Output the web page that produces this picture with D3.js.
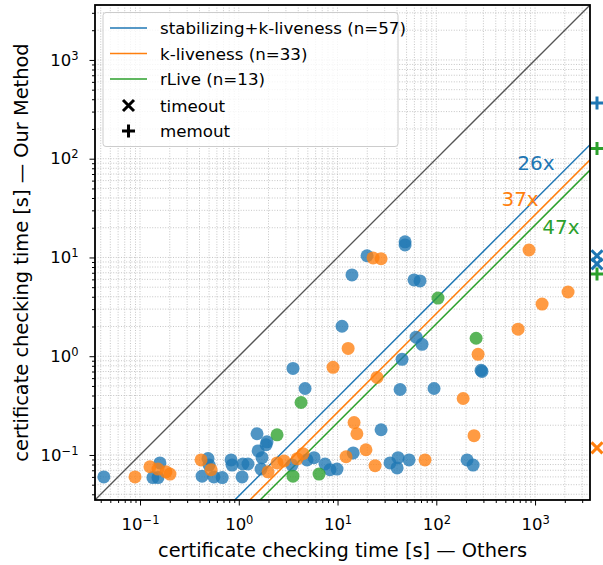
<!DOCTYPE html>
<html>
<head>
<meta charset="utf-8">
<script src="https://cdn.jsdelivr.net/npm/d3@7"></script>
<style>
body { margin: 0; background: #fff; }
text { font-family: "DejaVu Sans", sans-serif; fill: #000; }
</style>
</head>
<body>
<div id="chart"></div>
<script>
// stabilizing+k-liveness (blue)
var stabX = [0.043, 0.135, 0.152, 0.159, 0.425, 0.488, 0.50, 0.56, 0.68, 0.835, 0.855, 1.08, 1.10, 1.24,
  1.53, 1.93, 1.89, 1.57, 1.72, 1.68, 3.46, 4.91, 5.78, 7.47, 8.39, 9.88, 3.54, 4.69, 62.4, 71.7,
  45.0, 43.0, 94.9, 284, 290, 27.6, 14.4, 34.0, 41.0, 40.1, 53.0, 205, 236, 19.9, 48.3, 48.3,
  14.0, 59.5, 68.4, 11.1];
var stabY = [0.060, 0.059, 0.059, 0.083, 0.061, 0.092, 0.079, 0.060, 0.059, 0.089, 0.079, 0.060, 0.081, 0.081,
  0.164, 0.136, 0.127, 0.110, 0.094, 0.072, 0.079, 0.089, 0.094, 0.081, 0.071, 0.072, 0.753, 0.471, 1.56, 1.32,
  0.929, 0.46, 0.471, 0.719, 0.702, 0.180, 0.105, 0.083, 0.094, 0.074, 0.089, 0.089, 0.079, 10.4, 14.4, 13.4,
  6.65, 5.92, 5.78, 2.01];

// k-liveness (orange)
var klivX = [0.089, 0.126, 0.152, 0.183, 0.201, 0.415, 0.524, 1.98, 2.44, 2.87, 3.89, 4.47, 9.0, 12.8, 25.1,
  187, 14.7, 15.7, 19.4, 12.2, 241, 24.0, 76.9, 265, 22.9, 27.6, 869, 1178, 2158, 673];
var klivY = [0.060, 0.076, 0.072, 0.0675, 0.064, 0.089, 0.071, 0.0675, 0.083, 0.087, 0.0915, 0.103, 0.771, 1.20, 0.61,
  0.373, 0.213, 0.164, 0.113, 0.096, 0.157, 0.078, 0.089, 1.045, 9.9, 9.7, 11.9, 3.37, 4.47, 1.88];

// rLive (green)
var rliveX = [2.44, 3.54, 6.5, 4.27, 104, 253];
var rliveY = [0.160, 0.061, 0.064, 0.340, 3.88, 1.52];

// runs of the other tools that did not finish (y = our time)
var timeoutY = { stab: [10.4, 8.6], kliv: [0.118], rlive: [] };
var memoutY = { stab: [366], kliv: [], rlive: [127, 6.8] };

var speedups = [26, 37, 47];
var seriesNames = ["stabilizing+k-liveness (n=57)", "k-liveness (n=33)", "rLive (n=13)"];
var tickExps = [-1, 0, 1, 2, 3];
var axisLimits = [0.035, 3600];

var colors = ["#1f77b4", "#ff7f0e", "#2ca02c"];

var svgWidth = 603, svgHeight = 565;
var margin = { top: 5, right: 13, bottom: 65, left: 95 };
var width = svgWidth - margin.left - margin.right;   // 495
var height = svgHeight - margin.top - margin.bottom; // 495

var svg = d3.select("#chart").append("svg")
  .attr("width", svgWidth)
  .attr("height", svgHeight);

var chartGroup = svg.append("g")
  .attr("transform", `translate(${margin.left}, ${margin.top})`);

var x = d3.scaleLog().domain(axisLimits).range([0, width]);
var y = d3.scaleLog().domain(axisLimits).range([height, 0]);

var majors = tickExps.map(e => Math.pow(10, e));
var minors = [];
for (var e = -2; e <= 3; e++) {
  for (var m = 2; m <= 9; m++) {
    var v = m * Math.pow(10, e);
    if (v >= axisLimits[0] && v <= axisLimits[1]) minors.push(v);
  }
}
var allGrid = majors.concat(minors);

chartGroup.append("defs").append("clipPath").attr("id", "plotclip")
  .append("rect").attr("width", width).attr("height", height);

// grid (major + minor, dotted)
var grid = chartGroup.append("g").attr("stroke", "#b8b8b8").attr("stroke-width", 0.8)
  .attr("stroke-dasharray", "1,1.6");
grid.selectAll(".gv").data(allGrid).enter().append("line")
  .attr("x1", d => x(d)).attr("x2", d => x(d)).attr("y1", 0).attr("y2", height);
grid.selectAll(".gh").data(allGrid).enter().append("line")
  .attr("y1", d => y(d)).attr("y2", d => y(d)).attr("x1", 0).attr("x2", width);

// diagonal and speedup lines
var lines = chartGroup.append("g").attr("clip-path", "url(#plotclip)");
lines.append("line")
  .attr("x1", x(axisLimits[0])).attr("y1", y(axisLimits[0]))
  .attr("x2", x(axisLimits[1])).attr("y2", y(axisLimits[1]))
  .attr("stroke", "#555").attr("stroke-width", 1.3);
speedups.forEach(function(s, i) {
  lines.append("line")
    .attr("x1", x(axisLimits[0])).attr("y1", y(axisLimits[0] / s))
    .attr("x2", x(axisLimits[1])).attr("y2", y(axisLimits[1] / s))
    .attr("stroke", colors[i]).attr("stroke-width", 1.5);
});

// scatter points
var series = [[stabX, stabY], [klivX, klivY], [rliveX, rliveY]];
series.forEach(function(s, i) {
  var pts = s[0].map((v, j) => [v, s[1][j]]);
  chartGroup.append("g").selectAll("circle")
    .data(pts)
    .enter()
    .append("circle")
    .attr("cx", d => x(d[0]))
    .attr("cy", d => y(d[1]))
    .attr("r", 6.5)
    .attr("fill", colors[i])
    .attr("fill-opacity", 0.78);
});

// speedup labels
var speedLabelPos = [[1020, 90], [705, 39.5], [1830, 20.5]];
speedups.forEach(function(s, i) {
  chartGroup.append("text")
    .attr("x", x(speedLabelPos[i][0]))
    .attr("y", y(speedLabelPos[i][1]))
    .attr("text-anchor", "middle")
    .attr("dy", "0.36em")
    .style("fill", colors[i])
    .style("font-size", "20px")
    .text(s + "x");
});

// timeout / memout markers, outside the right spine
var outsideX = width + 7;
var plusPath = "M-6.5,0H6.5M0,-6.5V6.5";
var crossPath = "M-5.5,-5.5L5.5,5.5M-5.5,5.5L5.5,-5.5";
["stab", "kliv", "rlive"].forEach(function(k, i) {
  timeoutY[k].forEach(function(v) {
    chartGroup.append("path").attr("d", crossPath)
      .attr("transform", `translate(${outsideX}, ${y(v)})`)
      .attr("stroke", colors[i]).attr("stroke-width", 3).attr("fill", "none");
  });
  memoutY[k].forEach(function(v) {
    chartGroup.append("path").attr("d", plusPath)
      .attr("transform", `translate(${outsideX}, ${y(v)})`)
      .attr("stroke", colors[i]).attr("stroke-width", 3).attr("fill", "none");
  });
});

// axes
function supLabel(sel) {
  sel.each(function(d) {
    var t = d3.select(this);
    var ex = Math.round(Math.log10(d));
    t.text("");
    t.append("tspan").text("10");
    t.append("tspan").attr("dy", -6).style("font-size", "11.5px")
      .text(ex < 0 ? "\u2212" + (-ex) : ex);
  });
}

var xAxis = chartGroup.append("g")
  .attr("transform", `translate(0, ${height})`)
  .call(d3.axisBottom(x).tickValues(majors).tickSize(5.5).tickPadding(12));
xAxis.selectAll(".tick text").attr("dy", null).attr("y", 30).style("font-size", "16.5px").call(supLabel);
chartGroup.append("g")
  .attr("transform", `translate(0, ${height})`)
  .call(d3.axisBottom(x).tickValues(minors).tickSize(3).tickFormat(""));

var yAxis = chartGroup.append("g")
  .call(d3.axisLeft(y).tickValues(majors).tickSize(5.5).tickPadding(11));
yAxis.selectAll(".tick text").style("font-size", "16.5px").call(supLabel);
chartGroup.append("g")
  .call(d3.axisLeft(y).tickValues(minors).tickSize(3).tickFormat(""));

chartGroup.selectAll(".domain").remove();
chartGroup.selectAll(".tick line").attr("stroke", "#000").attr("stroke-width", 1);

// frame
chartGroup.append("rect")
  .attr("width", width).attr("height", height)
  .attr("fill", "none").attr("stroke", "#000").attr("stroke-width", 1.8);

// axis labels
svg.append("text")
  .attr("x", margin.left + width / 2)
  .attr("y", 557)
  .attr("text-anchor", "middle")
  .style("font-size", "19.4px")
  .text("certificate checking time [s] \u2014 Others");

svg.append("text")
  .attr("transform", `translate(27.5, ${margin.top + height / 2}) rotate(-90)`)
  .attr("text-anchor", "middle")
  .style("font-size", "19.4px")
  .text("certificate checking time [s] \u2014 Our Method");

// legend
var legend = svg.append("g");
legend.append("rect")
  .attr("x", 103).attr("y", 12.5).attr("width", 295).attr("height", 134)
  .attr("rx", 3)
  .attr("fill", "#fff").attr("fill-opacity", 0.8)
  .attr("stroke", "#cccccc").attr("stroke-width", 1);

var rowY = [28, 53.5, 79, 105.5, 131];
seriesNames.forEach(function(name, i) {
  legend.append("line")
    .attr("x1", 110).attr("x2", 147).attr("y1", rowY[i]).attr("y2", rowY[i])
    .attr("stroke", colors[i]).attr("stroke-width", 1.5);
  legend.append("text").attr("x", 160).attr("y", rowY[i]).attr("dy", "0.36em")
    .style("font-size", "16.7px").text(name);
});
legend.append("path").attr("d", crossPath)
  .attr("transform", `translate(128.5, ${rowY[3]})`)
  .attr("stroke", "#000").attr("stroke-width", 3).attr("fill", "none");
legend.append("text").attr("x", 160).attr("y", rowY[3]).attr("dy", "0.36em")
  .style("font-size", "16.7px").text("timeout");
legend.append("path").attr("d", plusPath)
  .attr("transform", `translate(128.5, ${rowY[4]})`)
  .attr("stroke", "#000").attr("stroke-width", 3).attr("fill", "none");
legend.append("text").attr("x", 160).attr("y", rowY[4]).attr("dy", "0.36em")
  .style("font-size", "16.7px").text("memout");
</script>
</body>
</html>
